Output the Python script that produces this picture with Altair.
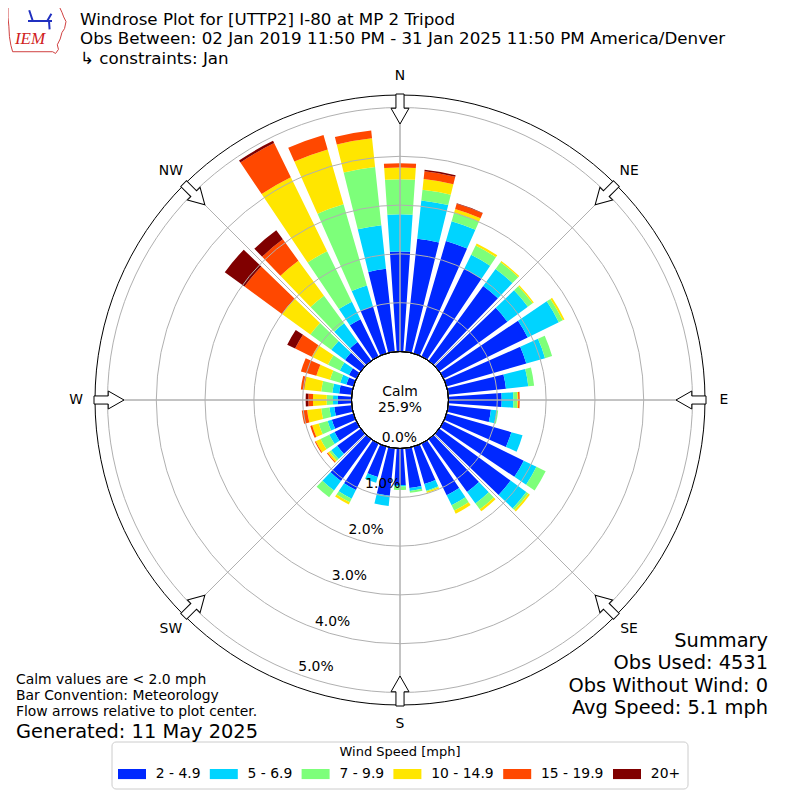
import math
import altair as alt
import pandas as pd

# ---------------- data ----------------
directions = list(range(0, 360, 10))
speed_bins = ["2 - 4.9", "5 - 6.9", "7 - 9.9", "10 - 14.9", "15 - 19.9", "20+"]
bin_colors = ["#0028ff", "#00d4ff", "#7dff7a", "#ffe600", "#ff4800", "#800000"]

# percent of all observations, per direction (0, 10, ..., 350) and speed bin
pct_2_5 = [2.05, 2.33, 2.40, 2.00, 1.90, 1.73, 1.92, 1.70, 1.19, 1.09, 0.88, 1.38,
           1.83, 1.81, 1.34, 1.18, 0.80, 0.82, 0.75, 0.98, 0.65, 1.06, 1.06, 0.60,
           0.50, 0.46, 0.36, 0.28, 0.26, 0.15, 0.17, 0.40, 0.48, 0.85, 1.00, 1.71]
pct_5_7 = [0.76, 0.79, 0.42, 0.32, 0.43, 0.52, 0.71, 0.40, 0.46, 0.24, 0.12, 0.24,
           0.29, 0.40, 0.29, 0.23, 0.14, 0.06, 0.03, 0.21, 0.12, 0.20, 0.24, 0.15,
           0.12, 0.09, 0.10, 0.10, 0.14, 0.13, 0.21, 0.35, 0.47, 0.40, 0.45, 0.90]
pct_7_10 = [0.72, 0.22, 0.18, 0.21, 0.17, 0.12, 0.09, 0.15, 0.12, 0.08, 0.03, 0.00,
            0.21, 0.05, 0.15, 0.12, 0.02, 0.04, 0.07, 0.00, 0.00, 0.08, 0.17, 0.05,
            0.20, 0.19, 0.17, 0.13, 0.23, 0.22, 0.27, 0.53, 0.70, 1.15, 1.73, 1.20]
pct_10_15 = [0.24, 0.22, 0.08, 0.05, 0.03, 0.03, 0.04, 0.00, 0.00, 0.02, 0.00, 0.00,
             0.00, 0.04, 0.05, 0.07, 0.03, 0.00, 0.00, 0.00, 0.00, 0.05, 0.00, 0.04,
             0.11, 0.14, 0.29, 0.28, 0.35, 0.29, 0.37, 0.72, 0.89, 1.69, 1.17, 0.59]
pct_15_20 = [0.09, 0.16, 0.11, 0.00, 0.00, 0.00, 0.00, 0.00, 0.00, 0.03, 0.00, 0.00,
             0.00, 0.00, 0.00, 0.00, 0.00, 0.00, 0.00, 0.00, 0.00, 0.00, 0.00, 0.02,
             0.02, 0.04, 0.11, 0.095, 0.07, 0.33, 0.38, 0.95, 0.54, 0.78, 0.31, 0.16]
pct_20p = [0.00, 0.03, 0.01, 0.00, 0.00, 0.00, 0.00, 0.00, 0.00, 0.00, 0.00, 0.00,
           0.00, 0.00, 0.00, 0.00, 0.00, 0.00, 0.00, 0.00, 0.00, 0.00, 0.00, 0.00,
           0.00, 0.00, 0.00, 0.055, 0.00, 0.00, 0.18, 0.50, 0.23, 0.05, 0.00, 0.00]

ring_values = [0, 1, 2, 3, 4, 5]
ring_labels = ["0.0%", "1.0%", "2.0%", "3.0%", "4.0%", "5.0%"]
compass_angles = [0, 45, 90, 135, 180, 225, 270, 315]
compass_labels = ["N", "NE", "E", "SE", "S", "SW", "W", "NW"]

title_lines = ["Windrose Plot for [UTTP2] I-80 at MP 2 Tripod",
               "Obs Between: 02 Jan 2019 11:50 PM - 31 Jan 2025 11:50 PM America/Denver",
               "\u00a0\u21b3 constraints: Jan"]
summary_lines = ["Summary", "Obs Used: 4531", "Obs Without Wind: 0", "Avg Speed: 5.1 mph"]
note_lines = ["Calm values are < 2.0 mph", "Bar Convention: Meteorology",
              "Flow arrows relative to plot center."]
generated_text = "Generated: 11 May 2025"
calm_lines = ["Calm", "25.9%"]
legend_title = "Wind Speed [mph]"

# ---------------- geometry / style ----------------
W = H = 784
CX, CY = W / 2, H / 2
R_IN = 48.5          # px radius of 0 %
PX_PER_PCT = 48.8
R_OUT = 305.0
RMAX = (R_OUT - R_IN) / PX_PER_PCT
HALF_W = 3.9         # half bar width in degrees
FONT = "DejaVu Sans"
GRID = "#b0b0b0"

series = [pct_2_5, pct_5_7, pct_7_10, pct_10_15, pct_15_20, pct_20p]
rows = []
for i, d in enumerate(directions):
    base = 0.0
    for b, arr in zip(speed_bins, series):
        v = arr[i]
        if v > 0:
            rows.append({"dir": d, "t0": d - HALF_W, "t1": d + HALF_W,
                         "r0": base, "r1": base + v, "bin": b})
        base += v
bars_df = pd.DataFrame(rows)

T_SCALE = alt.Scale(type="linear", domain=[0, 360], range=[0, 2 * math.pi], nice=False, zero=False)
R_SCALE = alt.Scale(type="linear", domain=[0, RMAX], range=[R_IN, R_OUT], nice=False, zero=False)

RECT_PATH = "M-1,-0.36L1,-0.36L1,0.36L-1,0.36Z"

legend = alt.Legend(
    title=None, orient="none", legendX=104, legendY=749,
    direction="horizontal", columns=6, symbolType=RECT_PATH, symbolSize=784,
    symbolStrokeWidth=0, symbolOffset=3, labelOffset=9.8, columnPadding=5.8,
    labelFont=FONT, labelFontSize=13.9, labelColor="black", padding=3,
)

bars = alt.Chart(bars_df).mark_arc().encode(
    theta=alt.Theta("t0:Q", scale=T_SCALE, stack=False),
    theta2="t1:Q",
    radius=alt.Radius("r0:Q", scale=R_SCALE, stack=False),
    radius2="r1:Q",
    color=alt.Color("bin:N", scale=alt.Scale(domain=speed_bins, range=bin_colors),
                    sort=speed_bins, legend=legend),
)

rings_df = pd.DataFrame({"ring": ring_values, "t0": 0, "t1": 360})
rings = alt.Chart(rings_df).mark_arc(fill="transparent", stroke=GRID, strokeWidth=1).encode(
    theta=alt.Theta("t0:Q", scale=T_SCALE, stack=False),
    theta2="t1:Q",
    radius=alt.Radius("ring:Q", scale=R_SCALE, stack=False),
)

spokes_df = pd.DataFrame({"angle": compass_angles, "inner": 0.0, "outer": RMAX})
spokes = alt.Chart(spokes_df).mark_arc(fill="transparent", stroke=GRID, strokeWidth=1).encode(
    theta=alt.Theta("angle:Q", scale=T_SCALE, stack=False),
    theta2="angle:Q",
    radius=alt.Radius("outer:Q", scale=R_SCALE, stack=False),
    radius2="inner:Q",
)

circ_df = pd.DataFrame({"t0": [0], "t1": [360], "calm": [0.0], "edge": [RMAX]})
calm_circle = alt.Chart(circ_df).mark_arc(fill="white", stroke="black", strokeWidth=1).encode(
    theta=alt.Theta("t0:Q", scale=T_SCALE, stack=False),
    theta2="t1:Q",
    radius=alt.Radius("calm:Q", scale=R_SCALE, stack=False),
)
outer_circle = alt.Chart(circ_df).mark_arc(fill="transparent", stroke="black", strokeWidth=1).encode(
    theta=alt.Theta("t0:Q", scale=T_SCALE, stack=False),
    theta2="t1:Q",
    radius=alt.Radius("edge:Q", scale=R_SCALE, stack=False),
)

ARROW_PATH = "M-0.27,-1L0.27,-1L0.27,-0.05L0.6,-0.05L0,1L-0.6,-0.05L-0.27,-0.05Z"
R_ARROW = 291.0
arrows_df = pd.DataFrame({"angle": compass_angles})
arrows = alt.Chart(arrows_df).transform_calculate(
    px=f"{CX} + {R_ARROW} * sin(datum.angle * PI / 180)",
    py=f"{CY} - {R_ARROW} * cos(datum.angle * PI / 180)",
).mark_point(shape=ARROW_PATH, size=900, filled=True, fill="white", stroke="black",
             strokeWidth=1, opacity=1).encode(
    x=alt.X("px:Q", scale=None, axis=None),
    y=alt.Y("py:Q", scale=None, axis=None),
    angle=alt.Angle("angle:Q", scale=None),
)

labels_df = pd.DataFrame({"angle": compass_angles, "label": compass_labels})
compass = alt.Chart(labels_df).mark_text(font=FONT, fontSize=13.9, color="black",
                                          align="center", baseline="middle").encode(
    theta=alt.Theta("angle:Q", scale=T_SCALE, stack=False),
    radius=alt.value(324),
    text="label:N",
)

rl_df = pd.DataFrame({"ring": ring_values, "label": ring_labels})
ring_text = alt.Chart(rl_df).transform_calculate(ang="200").mark_text(
    font=FONT, fontSize=13.9, color="black", align="center", baseline="middle",
    dx=16, dy=-7.5).encode(
    theta=alt.Theta("ang:Q", scale=T_SCALE, stack=False),
    radius=alt.Radius("ring:Q", scale=R_SCALE, stack=False),
    text="label:N",
)

one = alt.Data(values=[{"a": 1}])


def txt(s, x, y, size=13.9, align="left", color="black", font=FONT, style=None,
        baseline="middle", line_height=None):
    kw = dict(text=s, font=font, fontSize=size, align=align, baseline=baseline, color=color)
    if style:
        kw["fontStyle"] = style
    if line_height:
        kw["lineHeight"] = line_height
    return alt.Chart(one).mark_text(**kw).encode(x=alt.value(x), y=alt.value(y))


texts = []
texts.append(txt(title_lines, 72, 17, 16.7, baseline="alphabetic", line_height=19.3))
texts.append(txt(summary_lines, 760, 639, 19.4, align="right", baseline="alphabetic",
                 line_height=22.4))
texts.append(txt(note_lines, 8, 676, 13.9, baseline="alphabetic", line_height=16.2))
texts.append(txt(generated_text, 8, 724, 19.4))
texts.append(txt(calm_lines, 392, 388, 13.9, align="center", baseline="alphabetic",
                 line_height=16.2))

# legend frame and title
legend_box = alt.Chart(one).mark_rect(fill="white", stroke="#cccccc", strokeWidth=1,
                                      cornerRadius=4).encode(
    x=alt.value(104), x2=alt.value(680), y=alt.value(734), y2=alt.value(781))
legend_head = txt(legend_title, 392, 744, 13, align="center")

# IEM logo (approximation)
IOWA_PATH = ("M-1,-0.85L0.78,-0.85L0.86,-0.68L0.92,-0.52L1,-0.36L0.95,-0.12L0.86,0.02"
             "L0.8,0.24L0.7,0.44L0.74,0.6L0.64,0.74L0.54,0.68L-0.84,0.68L-0.9,0.46"
             "L-0.95,0.16L-0.97,-0.2L-1,-0.5Z")
logo_outline = alt.Chart(one).mark_point(shape=IOWA_PATH, size=3364, filled=False,
                                         stroke="#d04040", strokeWidth=1, opacity=1).encode(
    x=alt.value(29), y=alt.value(24))
BARB_PATH = "M-1,0L1,0M-0.6,0L-0.9,-0.9M0.6,0L0.95,-0.6M0.75,0L0.8,0.7"
logo_barb = alt.Chart(one).mark_point(shape=BARB_PATH, size=576, filled=False,
                                      stroke="#2030c0", strokeWidth=2, opacity=1).encode(
    x=alt.value(32), y=alt.value(13))
logo_text = txt("IEM", 22, 31, 17, align="center", color="#d02020",
                font="Liberation Serif", style="italic")

layers = [legend_box, bars, rings, spokes, outer_circle, calm_circle, arrows, compass,
          ring_text, logo_outline, logo_barb, logo_text, legend_head] + texts

chart = alt.layer(*layers).properties(
    width=W, height=H, padding=0, autosize=alt.AutoSizeParams(type="none"),
).configure(font=FONT, view=alt.ViewConfig(stroke=None))

chart.save("out.html", embed_options={"renderer": "svg", "actions": False})
